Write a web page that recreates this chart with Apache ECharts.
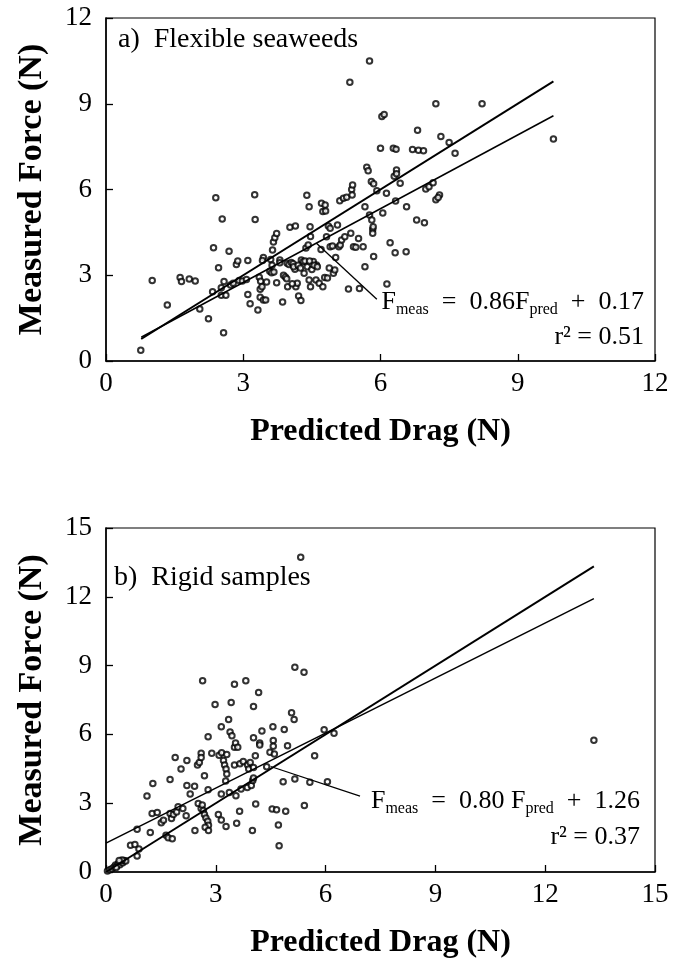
<!DOCTYPE html>
<html>
<head>
<meta charset="utf-8">
<script src="https://cdn.jsdelivr.net/npm/echarts@6/dist/echarts.min.js"></script>
<style>html,body{margin:0;padding:0;background:#fff}#c{width:676px;height:964px}</style>
</head>
<body>
<div id="c"></div>
<script>
// ---------- data ----------
const topTicks = [0, 3, 6, 9, 12];
const bottomTicks = [0, 3, 6, 9, 12, 15];

const topPoints = [
[0.76,0.38],[1.01,2.82],[1.34,1.96],[1.62,2.92],[1.65,2.78],[1.82,2.87],[1.95,2.8],[2.05,1.82],[2.24,1.48],[2.33,2.42],
[2.35,3.96],[2.4,5.71],[2.46,3.26],[2.52,2.3],[2.54,4.97],[2.52,2.56],[2.57,0.99],[2.58,2.78],[2.62,2.3],[2.69,3.84],
[2.72,2.66],[2.78,2.72],[2.85,3.38],[2.88,3.5],[2.91,2.82],[2.98,2.8],[3.07,2.85],[3.1,3.52],[3.1,2.33],[3.15,2.0],
[3.25,5.82],[3.26,4.95],[3.32,1.78],[3.35,2.93],[3.38,2.79],[3.37,2.51],[3.41,2.6],[3.37,2.23],[3.44,2.13],[3.49,2.13],
[3.44,3.62],[3.42,3.52],[3.51,2.76],[3.58,3.14],[3.62,3.09],[3.64,3.88],[3.66,4.16],[3.69,4.31],[3.73,4.46],[3.67,3.11],
[3.73,2.74],[3.8,3.53],[3.8,3.44],[3.86,2.06],[3.88,3.0],[3.92,2.94],[3.95,2.88],[3.96,3.42],[4.0,3.38],[4.05,3.45],
[4.09,3.4],[4.02,4.68],[4.14,4.72],[4.13,3.21],[4.15,2.6],[4.18,2.72],[4.21,2.27],[4.26,2.12],[4.27,3.53],[4.31,3.47],
[4.33,3.07],[4.39,5.8],[4.37,3.95],[4.42,4.06],[4.44,5.4],[4.46,4.7],[4.47,4.36],[4.44,2.83],[4.47,2.6],[4.53,3.48],
[4.59,2.83],[4.6,3.36],[4.66,2.72],[4.71,5.52],[4.79,5.46],[4.74,5.23],[4.8,5.25],[4.82,4.35],[4.86,4.72],[4.9,4.64],
[4.9,4.0],[4.95,4.02],[4.97,3.07],[5.0,3.18],[5.06,4.76],[5.09,4.0],[5.12,4.06],[5.11,5.61],[5.19,5.69],[5.26,5.73],
[5.15,4.23],[5.22,4.35],[5.3,2.52],[5.35,4.47],[5.33,9.75],[5.37,6.0],[5.39,6.16],[5.38,5.81],[5.41,4.0],[5.46,3.98],
[5.52,4.29],[5.54,2.54],[5.62,4.0],[5.66,5.4],[5.66,3.3],[5.7,6.78],[5.73,6.66],[5.76,10.5],[5.76,5.11],[5.81,4.93],
[5.83,4.61],[5.83,4.47],[5.84,4.7],[5.8,6.28],[5.85,6.2],[5.85,3.66],[5.92,5.96],[6.0,7.44],[6.03,8.55],[6.08,8.62],
[6.05,5.18],[6.13,5.87],[6.14,2.69],[6.21,4.14],[6.28,7.44],[6.34,7.41],[6.3,6.46],[6.35,6.68],[6.35,6.55],[6.33,5.6],
[6.43,6.22],[6.32,3.79],[6.56,3.82],[6.57,5.4],[6.7,7.4],[6.81,8.07],[6.83,7.37],[6.94,7.36],[6.79,4.93],[6.96,4.84],
[6.99,6.02],[7.06,6.1],[7.15,6.24],[7.21,5.64],[7.29,5.81],[7.26,5.72],[7.21,9.0],[7.32,7.85],[7.5,7.64],[7.63,7.27],
[8.22,9.0],[9.78,7.77],
[4.1,3.3],[4.2,3.35],[4.25,3.25],[4.35,3.5],[4.4,3.3],[4.45,3.5],[4.5,3.2],[4.55,3.35],[4.62,3.3],[4.7,3.9],
[4.74,2.6],[4.78,2.92],[4.84,2.9],[4.88,3.25],[5.02,3.62],[3.6,3.55],[3.63,3.35],[3.97,2.6],[4.07,2.7]
];

const bottomPoints = [
[0.04,0.04],[0.1,0.1],[0.16,0.14],[0.22,0.22],[0.26,0.3],[0.3,0.26],[0.34,0.38],[0.38,0.32],[0.42,0.44],[0.46,0.4],
[0.5,0.5],[0.54,0.48],[0.44,0.52],[0.36,0.5],[0.28,0.2],
[0.67,1.17],[0.79,1.2],[0.9,1.0],[0.85,0.7],[0.85,1.86],[1.12,3.31],[1.21,1.72],[1.26,2.55],[1.28,3.86],[1.4,2.59],
[1.51,2.15],[1.57,2.26],[1.64,1.6],[1.7,1.49],[1.81,1.45],[1.75,2.55],[1.79,2.33],[1.84,2.51],[1.75,4.03],[1.89,4.99],
[1.93,2.62],[1.97,2.85],[2.05,4.49],[2.1,2.77],[2.19,2.45],[2.21,4.86],[2.21,3.77],[2.3,3.4],[2.42,3.74],[2.43,1.81],
[2.5,4.67],[2.55,4.78],[2.52,2.99],[2.6,2.77],[2.63,2.92],[2.6,5.18],[2.6,4.99],[2.64,8.34],[2.66,2.68],[2.69,2.51],
[2.69,4.2],[2.73,2.36],[2.78,2.21],[2.8,2.04],[2.71,1.95],[2.8,1.81],[2.79,3.59],[2.79,5.9],[2.89,5.18],[2.98,7.3],
[3.07,2.51],[3.09,5.09],[3.15,6.33],[3.15,3.4],[3.15,2.27],[3.16,5.2],[3.21,4.86],[3.24,4.67],[3.28,4.49],[3.27,3.97],
[3.28,1.98],[3.3,5.12],[3.3,4.27],[3.35,6.65],[3.37,3.47],[3.39,6.1],[3.42,7.39],[3.44,5.94],[3.51,8.19],[3.51,5.44],
[3.54,5.63],[3.51,4.67],[3.55,3.32],[3.57,2.13],[3.6,5.44],[3.65,2.65],[3.66,4.72],[3.69,3.62],[3.75,4.82],[3.82,8.34],
[3.86,3.69],[3.87,4.67],[3.9,4.49],[3.94,4.78],[3.97,3.77],[4.0,1.81],[4.01,3.99],[4.03,7.22],[4.03,5.85],[4.03,4.56],
[4.03,4.1],[4.08,5.07],[4.09,2.97],[4.17,7.83],[4.2,5.63],[4.2,5.54],[4.26,6.15],[4.39,4.59],[4.48,5.22],[4.54,2.75],
[4.56,6.33],[4.57,5.73],[4.57,5.48],[4.6,5.15],[4.66,2.71],[4.71,2.05],[4.73,1.15],[4.84,3.94],[4.87,6.21],[4.91,2.65],
[4.96,5.51],[5.07,6.94],[5.14,6.65],[5.16,8.93],[5.16,4.06],[5.32,13.73],[5.41,8.71],[5.42,2.9],[5.57,3.91],[5.7,5.07],
[5.96,6.2],[6.05,3.94],[6.23,6.05],[13.33,5.74]
];

// reference (1:1) lines and fitted regressions
const topOneToOne = [[0.77,0.77],[9.78,9.78]];
const topFit = [[0.77,0.83],[9.78,8.58]];
const topLeader = [[4.6,4.12],[5.92,2.16]];
const bottomOneToOne = [[0,0],[13.33,13.33]];
const bottomFit = [[0,1.26],[13.33,11.92]];
const bottomLeader = [[4.5,4.6],[6.94,3.31]];

const xTitle = 'Predicted Drag (N)';
const yTitle = 'Measured Force (N)';
const panelA = 'a)  Flexible seaweeds';
const panelB = 'b)  Rigid samples';

// ---------- chart ----------
const FONT = '"Liberation Serif", "Times New Roman", serif';
const chart = echarts.init(document.getElementById('c'), null, {renderer: 'canvas'});

function xAxis(idx, max) {
  return {
    type: 'value', gridIndex: idx, min: 0, max: max, interval: 3,
    name: xTitle, nameLocation: 'middle', nameGap: 55,
    nameTextStyle: {fontFamily: FONT, fontSize: 32, fontWeight: 'bold', color: '#000'},
    axisLine: {show: true, onZero: false, lineStyle: {color: '#000', width: 1.5}},
    axisTick: {show: true, inside: true, length: 7, lineStyle: {color: '#000', width: 1.3}},
    axisLabel: {fontFamily: FONT, fontSize: 27, color: '#000', margin: 9},
    splitLine: {show: false}
  };
}
function yAxis(idx, max) {
  return {
    type: 'value', gridIndex: idx, min: 0, max: max, interval: 3,
    name: yTitle, nameLocation: 'middle', nameGap: 57,
    nameTextStyle: {fontFamily: FONT, fontSize: 34, fontWeight: 'bold', color: '#000'},
    axisLine: {show: true, onZero: false, lineStyle: {color: '#000', width: 1.5}},
    axisTick: {show: true, inside: true, length: 7, lineStyle: {color: '#000', width: 1.3}},
    axisLabel: {fontFamily: FONT, fontSize: 27, color: '#000', margin: 14},
    splitLine: {show: false}
  };
}
function scatter(idx, data) {
  return {
    type: 'scatter', xAxisIndex: idx, yAxisIndex: idx, data: data,
    symbol: 'emptyCircle', symbolSize: 5.5,
    itemStyle: {color: '#000', borderColor: '#000', borderWidth: 1.3},
    silent: true, z: 3
  };
}
function line(idx, data, w) {
  return {
    type: 'line', xAxisIndex: idx, yAxisIndex: idx, data: data,
    showSymbol: false, symbol: 'none', silent: true,
    lineStyle: {color: '#000', width: w}, z: 4
  };
}

const rich = {
  m: {fontFamily: FONT, fontSize: 26, fill: '#000', lineHeight: 30},
  s: {fontFamily: FONT, fontSize: 16, fill: '#000', padding: [16, 0, 0, 0], lineHeight: 30}
};

chart.setOption({
  backgroundColor: '#fff',
  animation: false,
  grid: [
    {left: 106, top: 18, width: 549, height: 343, show: true, borderColor: '#000', borderWidth: 1.2, backgroundColor: 'transparent'},
    {left: 106, top: 528, width: 549, height: 344, show: true, borderColor: '#000', borderWidth: 1.2, backgroundColor: 'transparent'}
  ],
  xAxis: [xAxis(0, 12), xAxis(1, 15)],
  yAxis: [yAxis(0, 12), yAxis(1, 15)],
  series: [
    scatter(0, topPoints),
    line(0, topOneToOne, 2),
    line(0, topFit, 1.5),
    line(0, topLeader, 1.3),
    scatter(1, bottomPoints),
    line(1, bottomOneToOne, 2),
    line(1, bottomFit, 1.5),
    line(1, bottomLeader, 1.3)
  ],
  graphic: [
    {type: 'text', x: 118, y: 40, style: {text: panelA, font: '28px ' + FONT, fill: '#000', verticalAlign: 'middle'}},
    {type: 'text', x: 114, y: 578, style: {text: panelB, font: '28px ' + FONT, fill: '#000', verticalAlign: 'middle'}},
    {type: 'text', x: 644, y: 302, style: {text: '{m|F}{s|meas}{m|  =  0.86F}{s|pred}{m|  +  0.17}', rich: rich, align: 'right', verticalAlign: 'middle'}},
    {type: 'text', x: 644, y: 337, style: {text: 'r² = 0.51', font: '26px ' + FONT, fill: '#000', align: 'right', verticalAlign: 'middle'}},
    {type: 'text', x: 640, y: 801, style: {text: '{m|F}{s|meas}{m|  =  0.80 F}{s|pred}{m|  +  1.26}', rich: rich, align: 'right', verticalAlign: 'middle'}},
    {type: 'text', x: 640, y: 837, style: {text: 'r² = 0.37', font: '26px ' + FONT, fill: '#000', align: 'right', verticalAlign: 'middle'}}
  ]
});
</script>
</body>
</html>
